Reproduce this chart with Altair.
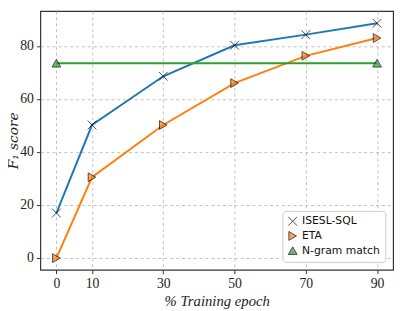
import altair as alt
import pandas as pd

epochs = [0, 10, 30, 50, 70, 90]
isesl = [17.0, 50.2, 68.6, 80.3, 84.3, 88.6]
eta = [0.0, 30.5, 50.2, 66.0, 76.3, 83.0]
ngram_x = [0, 90]
ngram = [73.5, 73.5]

series = ["ISESL-SQL", "ETA", "N-gram match"]
fill_colors = ["#000000", "#ff7f0e", "#2ca02c"]
shapes = ["M-1,-1L1,1M-1,1L1,-1", "triangle-right", "triangle-up"]
# line scale listed in a different order so its legend is not merged with the marker legend
line_series = ["ETA", "ISESL-SQL", "N-gram match"]
line_colors = ["#ff7f0e", "#1f77b4", "#2ca02c"]

rows = []
for e, v in zip(epochs, isesl):
    rows.append({"epoch": e, "score": v, "series": "ISESL-SQL"})
for e, v in zip(epochs, eta):
    rows.append({"epoch": e, "score": v, "series": "ETA"})
for e, v in zip(ngram_x, ngram):
    rows.append({"epoch": e, "score": v, "series": "N-gram match"})
df = pd.DataFrame(rows)
df["line_group"] = df["series"]

xs = alt.Scale(domain=[-4.5, 94.5], nice=False, zero=False)
ys = alt.Scale(domain=[-4.4, 93.2], nice=False, zero=False)

x = alt.X("epoch:Q", scale=xs,
          axis=alt.Axis(values=epochs, title="% Training epoch", titleFontStyle="italic"))
y = alt.Y("score:Q", scale=ys,
          axis=alt.Axis(values=[0, 20, 40, 60, 80], title="F₁ score", titleFontStyle="italic",
                        titleFont="DejaVu Serif", titleFontSize=14, titleX=-20))

lines = alt.Chart(df).mark_line(strokeWidth=2).encode(
    x=x, y=y,
    stroke=alt.Stroke("line_group:N", scale=alt.Scale(domain=line_series, range=line_colors), legend=None),
)

leg = alt.Legend(title=None, orient="bottom-right", offset=8)
points = alt.Chart(df).mark_point(filled=True, size=80, stroke="black", strokeWidth=1).encode(
    x=x, y=y,
    shape=alt.Shape("series:N", scale=alt.Scale(domain=series, range=shapes), legend=leg),
    color=alt.Color("series:N", scale=alt.Scale(domain=series, range=fill_colors), legend=leg),
)

chart = (lines + points).properties(
    width=360, height=264,
    autosize=alt.AutoSizeParams(type="none"),
    padding={"left": 33, "top": 0, "right": 6, "bottom": 39},
).configure_view(
    stroke="#333333", strokeWidth=1.2
).configure_axis(
    labelFont="Liberation Serif", labelFontSize=14, labelColor="#222",
    titleFont="Liberation Serif", titleFontSize=15, titleFontWeight="normal", titleColor="#222",
    gridDash=[3, 3], gridColor="#b0b0b0", gridWidth=0.8,
    domain=False, tickColor="#333", tickSize=4, labelPadding=3,
).configure_axisX(titlePadding=4).configure_legend(
    labelFont="DejaVu Sans", labelFontSize=11, labelColor="#111",
    fillColor="white", strokeColor="#cccccc", cornerRadius=3, padding=5,
    symbolStrokeColor="black", symbolStrokeWidth=1, symbolSize=80, rowPadding=2,
)

chart.save("out.html", embed_options={"renderer": "svg", "actions": False})
